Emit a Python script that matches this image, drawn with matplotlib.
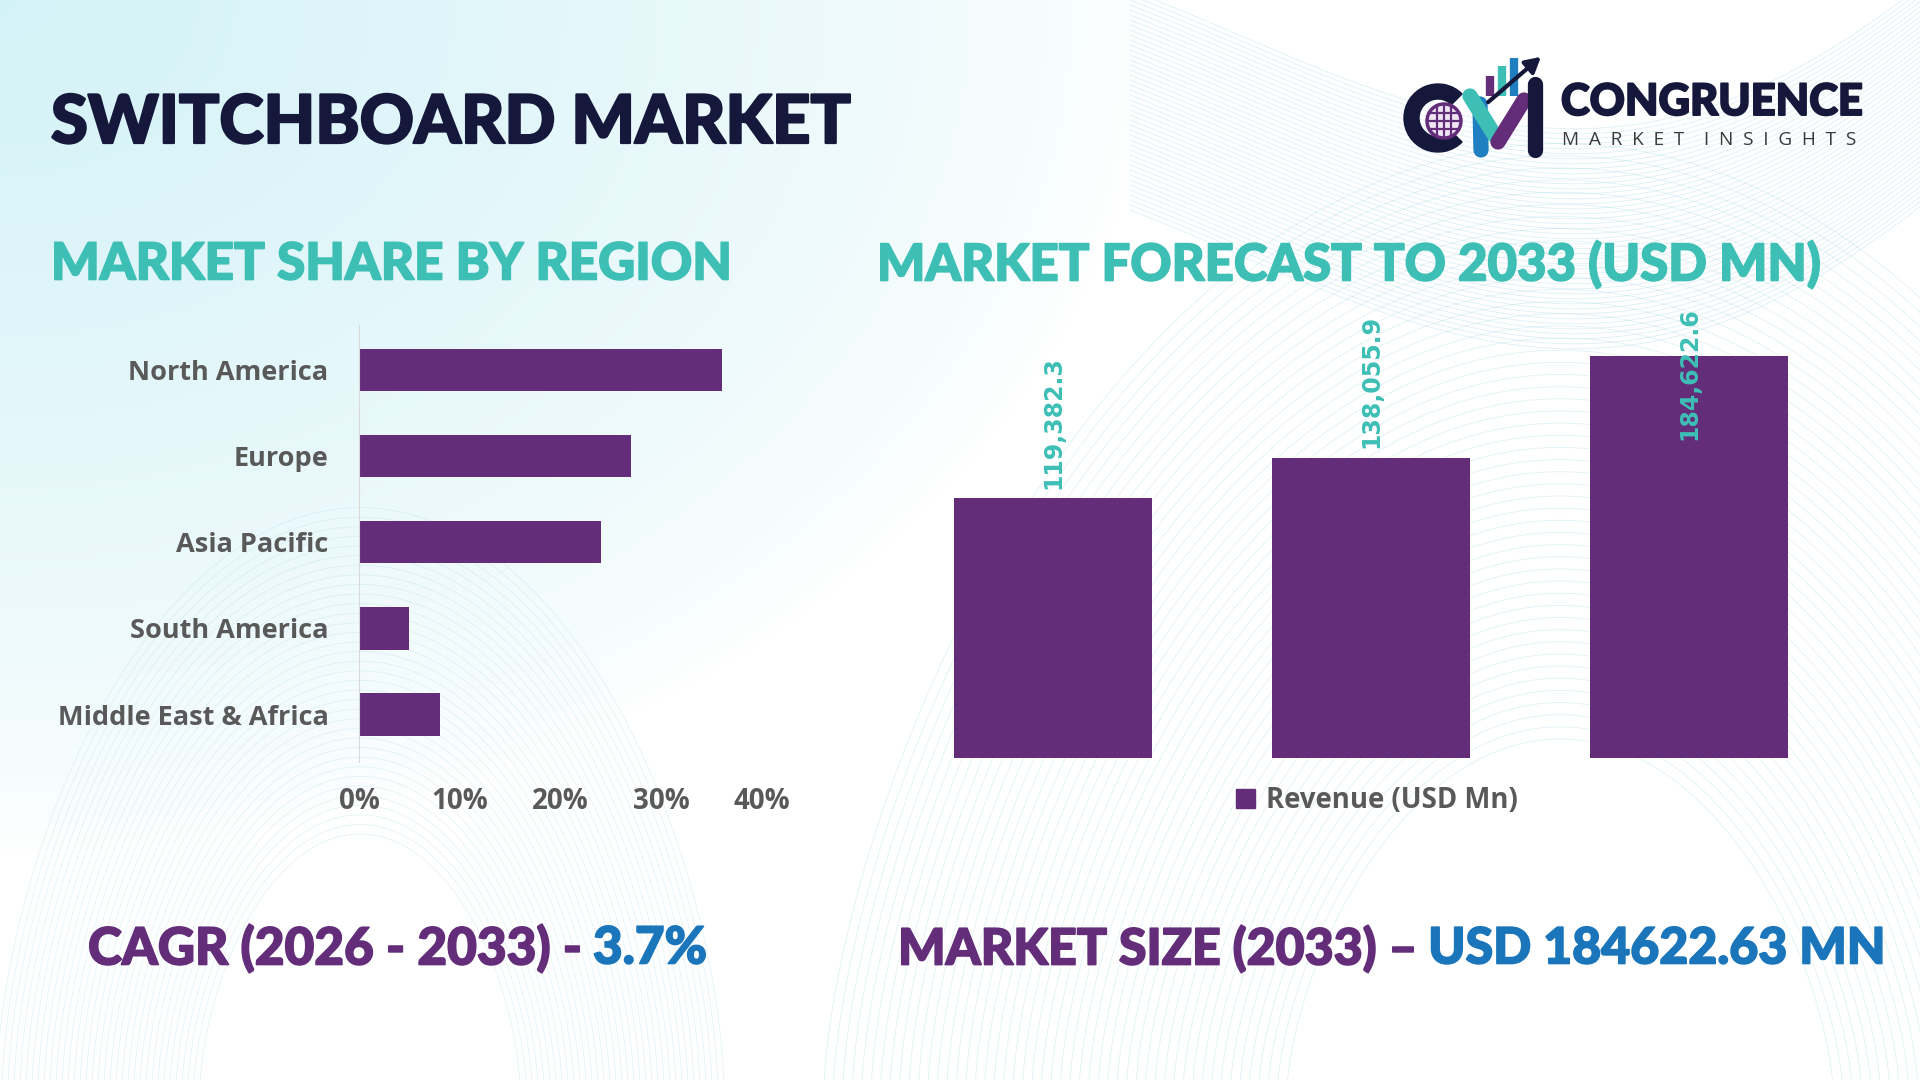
"""Switchboard market infographic: regional share and revenue forecast."""
import numpy as np
import matplotlib

matplotlib.use("Agg")
import matplotlib.pyplot as plt  # noqa: E402
import matplotlib.patheffects as pe  # noqa: E402
from matplotlib.patches import Wedge, Circle, Patch  # noqa: E402
from matplotlib.ticker import PercentFormatter  # noqa: E402

# ---- data -------------------------------------------------------------
regions = ["North America", "Europe", "Asia Pacific", "South America", "Middle East & Africa"]
region_share = [0.36, 0.27, 0.24, 0.05, 0.08]
share_ticks = [0.0, 0.1, 0.2, 0.3, 0.4]

periods = ["2025", "2026", "2033"]
revenue = [119382.3, 138055.9, 184622.6]
series_name = "Revenue (USD Mn)"

title = "SWITCHBOARD MARKET"
left_title = "MARKET SHARE BY REGION"
right_title = "MARKET FORECAST TO 2033 (USD MN)"
cagr_text = ("CAGR (2026 - 2033) - ", "3.7%")
size_text = ("MARKET SIZE (2033) \u2013 ", "USD 184622.63 MN")

PURPLE = "#632d79"
TEAL = "#3dbfb5"
NAVY = "#15183a"
BLUE = "#1a75bb"
GREY = "#595959"
HEAD_FONT = ["Lato", "DejaVu Sans"]
BODY_FONT = ["Open Sans", "DejaVu Sans"]

W, H = 1920, 1080
fig = plt.figure(figsize=(19.2, 10.8), dpi=100)
renderer = fig.canvas.get_renderer()

# ---- background -------------------------------------------------------
bg = fig.add_axes([0, 0, 1, 1], zorder=0)
bg.set_xlim(0, W)
bg.set_ylim(H, 0)
bg.axis("off")
yy, xx = np.mgrid[0:H:4, 0:W:4]
w = np.clip(1 - np.hypot(xx / 1150, yy / 850), 0, 1) ** 0.7
cyan = np.array([0.83, 0.95, 0.97])
img = 1 - (1 - cyan) * w[..., None]
bg.imshow(img, extent=[0, W, H, 0], aspect="auto", zorder=0)

# faint wave line decoration
wave_col = "#a9d9e8"
t = np.linspace(0, 1, 300)
for k in range(45):
    xs = 1130 + t * 820
    ys = -10 + k * 5 + 210 * np.sin(t * np.pi * 0.95) * (0.6 + 0.4 * t) - 60 * t
    bg.plot(xs, ys, color=wave_col, lw=0.6, alpha=0.4, zorder=1)
th = np.linspace(0, np.pi, 300)
for k in range(50):
    r = 260 + k * 9
    bg.plot(1560 + r * np.cos(th) * 1.05, 1090 - r * 1.35 * np.sin(th) ** 1.3,
            color=wave_col, lw=0.6, alpha=0.35, zorder=1)
for k in range(35):
    r = 160 + k * 6
    bg.plot(360 + r * np.cos(th), 1090 - r * 1.6 * np.sin(th) ** 1.2,
            color=wave_col, lw=0.6, alpha=0.3, zorder=1)

# ---- logo -------------------------------------------------------------
bg.add_patch(Wedge((1438, 118), 34, 45, 315, width=15, color=NAVY, zorder=3))
bg.add_patch(Circle((1444, 121), 17, facecolor="#efe6f4", edgecolor=PURPLE, lw=2.5, zorder=4))
for dy in (-8, 0, 8):
    half = np.sqrt(max(17 ** 2 - dy ** 2, 0))
    bg.plot([1444 - half, 1444 + half], [121 + dy, 121 + dy], color=PURPLE, lw=1.6, zorder=5)
for dx in (-7, 0, 7):
    bg.plot([1444 + dx, 1444 + dx], [105, 137], color=PURPLE, lw=1.6, zorder=5)
for x0, y0, x1, y1, c in [(1480, 104, 1481, 150, "#1f7fc1"),
                          (1470, 96, 1495, 136, TEAL),
                          (1498, 142, 1524, 100, PURPLE),
                          (1535, 84, 1535, 150, NAVY)]:
    bg.plot([x0, x1], [y0, y1], color=c, lw=11, solid_capstyle="round", zorder=6)
for xb, ytop, c in [(1490, 76, PURPLE), (1502, 66, TEAL), (1514, 58, "#1f7fc1")]:
    bg.plot([xb, xb], [ytop, 96], color=c, lw=6, solid_capstyle="butt", zorder=5)
bg.annotate("", xy=(1543, 55), xytext=(1486, 104),
            arrowprops=dict(arrowstyle="-|>,head_length=0.9,head_width=0.5",
                            color=NAVY, lw=3), zorder=7)


def px_text(x, y, s, **kw):
    return fig.text(x / W, 1 - y / H, s, **kw)


def heavy(color, lw=1.2):
    return [pe.withStroke(linewidth=lw, foreground=color)]


def fit(txt, width):
    bb = txt.get_window_extent(renderer)
    txt.set_fontsize(txt.get_fontsize() * width / bb.width)


def two_part(x, y, parts, colors, width, **kw):
    a = px_text(x, y, parts[0], color=colors[0], va="center",
                path_effects=heavy(colors[0]), **kw)
    b = px_text(x, y, parts[1], color=colors[1], va="center",
                path_effects=heavy(colors[1]), **kw)
    wa = a.get_window_extent(renderer).width
    wb = b.get_window_extent(renderer).width
    scale = width / (wa + wb)
    for tx in (a, b):
        tx.set_fontsize(tx.get_fontsize() * scale)
    wa = a.get_window_extent(renderer).width
    b.set_position(((x + wa) / W, 1 - y / H))


logo1 = px_text(1561, 102, "CONGRUENCE", color=NAVY, family=HEAD_FONT,
                fontweight="black", fontsize=30, va="center",
                path_effects=heavy(NAVY, 1.4))
fit(logo1, 301)
logo2 = px_text(1562, 140, "  ".join("MARKET") + "    " + "  ".join("INSIGHTS"),
                color="#3a3a3a", family=BODY_FONT, fontsize=14, va="center")
fit(logo2, 298)

# ---- titles -----------------------------------------------------------
t0 = px_text(51, 124, title, color=NAVY, family=HEAD_FONT, fontweight="black",
             fontsize=50, va="center", path_effects=heavy(NAVY, 1.6))
fit(t0, 800)
t1 = px_text(51, 265, left_title, color=TEAL, family=HEAD_FONT, fontweight="black",
             fontsize=36, va="center", path_effects=heavy(TEAL, 1.2))
fit(t1, 680)
t2 = px_text(877, 265, right_title, color=TEAL, family=HEAD_FONT, fontweight="black",
             fontsize=36, va="center", path_effects=heavy(TEAL, 1.2))
fit(t2, 943)

two_part(88, 949, cagr_text, [PURPLE, BLUE], 620, family=HEAD_FONT,
         fontweight="black", fontsize=36)
two_part(898, 949, size_text, [PURPLE, BLUE], 988, family=HEAD_FONT,
         fontweight="black", fontsize=36)

# ---- left chart: share by region --------------------------------------
ax1 = fig.add_axes([359 / W, 1 - 762 / H, 403 / W, 437 / H], zorder=2)
ax1.patch.set_alpha(0)
ypos = np.arange(len(regions))
ax1.barh(ypos, region_share, height=0.49, color=PURPLE)
ax1.set_ylim(len(regions) - 0.45, -0.52)
ax1.set_xlim(0, share_ticks[-1])
ax1.set_xticks(share_ticks)
ax1.xaxis.set_major_formatter(PercentFormatter(1.0, decimals=0))
ax1.set_yticks(ypos)
ax1.set_yticklabels(regions)
for s in ("top", "right", "bottom"):
    ax1.spines[s].set_visible(False)
ax1.spines["left"].set_color("#d9d9d9")
ax1.tick_params(length=0, labelcolor=GREY)
ax1.tick_params(axis="x", pad=18, labelsize=20)
ax1.tick_params(axis="y", pad=22, labelsize=19.5)
for lab in ax1.get_xticklabels() + ax1.get_yticklabels():
    lab.set_family(BODY_FONT)
    lab.set_fontweight("bold")

# ---- right chart: revenue forecast ------------------------------------
ax2 = fig.add_axes([894 / W, 1 - 758 / H, 954 / W, 446 / H], zorder=2)
ax2.patch.set_alpha(0)
xpos = np.arange(len(periods))
ymax = 205000
ax2.bar(xpos, revenue, width=0.623, color=PURPLE, label=series_name)
ax2.set_xlim(-0.5, len(periods) - 0.5)
ax2.set_ylim(0, ymax)
ax2.set_xticks([])
ax2.set_yticks([])
for s in ax2.spines.values():
    s.set_visible(False)

label_span = 128 / 446 * ymax  # approx. rotated label length in data units
for x, v in zip(xpos, revenue):
    txt = f"{v:,.1f}"
    if v + label_span + 0.02 * ymax > ymax:
        ax2.text(x, ymax + 0.01 * ymax, txt, rotation=90, ha="center", va="top",
                 color=TEAL, fontsize=17, fontweight="bold", family="DejaVu Sans")
    else:
        ax2.annotate(txt, (x, v), xytext=(0, 7), textcoords="offset points",
                     rotation=90, ha="center", va="bottom", color=TEAL,
                     fontsize=17, fontweight="bold", family="DejaVu Sans")

leg = ax2.legend(handles=[Patch(color=PURPLE, label=series_name)],
                 loc="upper center", bbox_to_anchor=(0.506, -0.008), frameon=False,
                 handlelength=0.7, handleheight=0.7, handletextpad=0.4,
                 prop=dict(family=BODY_FONT, weight="bold", size=19.8))
for tx in leg.get_texts():
    tx.set_color(GREY)

fig.savefig("out.png", dpi=100)
